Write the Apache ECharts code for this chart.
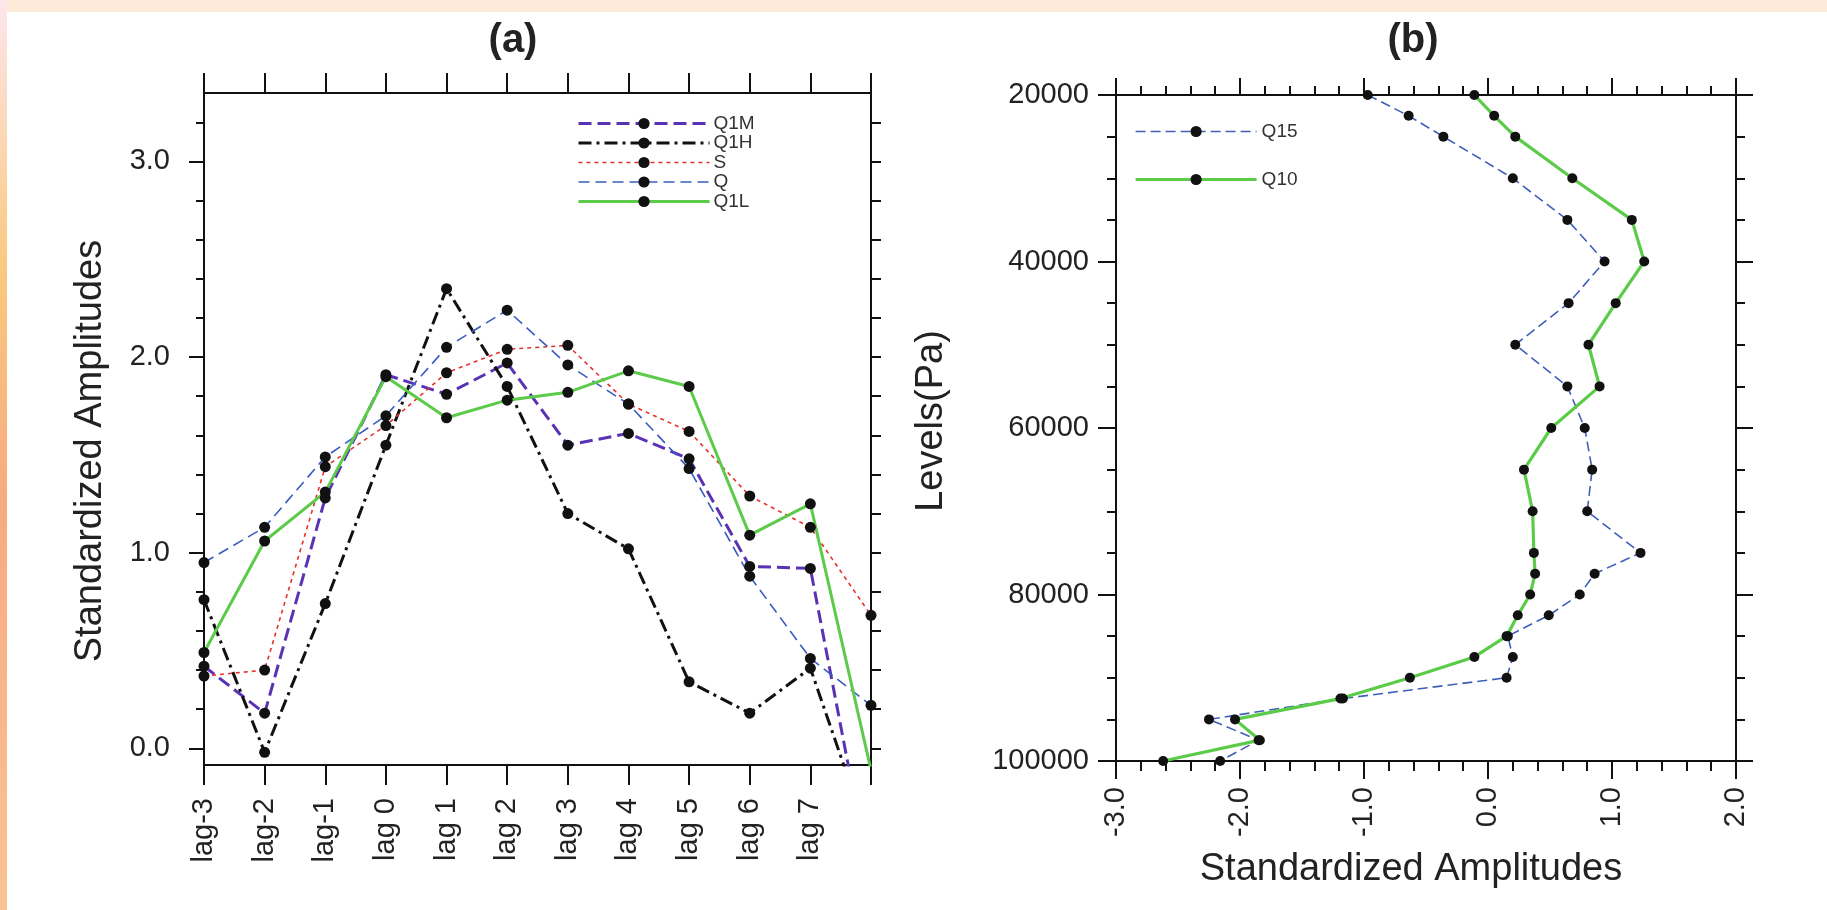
<!DOCTYPE html>
<html>
<head>
<meta charset="utf-8">
<script src="https://cdn.jsdelivr.net/npm/echarts@6/dist/echarts.min.js"></script>
<style>
  html, body { margin: 0; padding: 0; background: #ffffff; }
  #chart { width: 1827px; height: 910px; }
</style>
</head>
<body>
<div id="chart"></div>
<script>
// ---- Panel (a): amplitudes by lag ----
const lagLabels = ['lag-3', 'lag-2', 'lag-1', 'lag 0', 'lag 1', 'lag 2', 'lag 3', 'lag 4', 'lag 5', 'lag 6', 'lag 7'];
const lagPositions = [0, 1, 2, 3, 4, 5, 6, 7, 8, 9, 10, 11];
const q1m = [0.42, 0.18, 1.28, 1.91, 1.81, 1.97, 1.55, 1.61, 1.48, 0.93, 0.92, -0.69];
const q1h = [0.76, -0.02, 0.74, 1.55, 2.35, 1.85, 1.20, 1.02, 0.34, 0.18, 0.41, -0.49];
const sAmp = [0.37, 0.40, 1.44, 1.65, 1.92, 2.04, 2.06, 1.76, 1.62, 1.29, 1.13, 0.68];
const qAmp = [0.95, 1.13, 1.49, 1.70, 2.05, 2.24, 1.96, 1.76, 1.43, 0.88, 0.46, 0.22];
const q1l = [0.49, 1.06, 1.31, 1.90, 1.69, 1.78, 1.82, 1.93, 1.85, 1.09, 1.25, -0.11];
const ampMajorTicks = [0, 1, 2, 3];
const ampMinorTicks = [0.2, 0.4, 0.6, 0.8, 1.2, 1.4, 1.6, 1.8, 2.2, 2.4, 2.6, 2.8, 3.2];
const ampAllTicks = [0, 0.2, 0.4, 0.6, 0.8, 1, 1.2, 1.4, 1.6, 1.8, 2, 2.2, 2.4, 2.6, 2.8, 3, 3.2];

// ---- Panel (b): vertical profiles ----
const levels = [20000, 22500, 25000, 30000, 35000, 40000, 45000, 50000, 55000, 60000, 65000, 70000,
                75000, 77500, 80000, 82500, 85000, 87500, 90000, 92500, 95000, 97500, 100000];
const q15 = [-0.97, -0.64, -0.36, 0.20, 0.64, 0.94, 0.65, 0.22, 0.64, 0.78, 0.84, 0.80,
             1.23, 0.86, 0.74, 0.49, 0.16, 0.20, 0.15, -1.17, -2.25, -1.85, -2.16];
const q10 = [-0.11, 0.05, 0.22, 0.68, 1.16, 1.26, 1.03, 0.81, 0.90, 0.51, 0.29, 0.36,
             0.37, 0.38, 0.34, 0.24, 0.15, -0.11, -0.63, -1.19, -2.04, -1.84, -2.62];

const FONT = "'Liberation Sans', Arial, Helvetica, sans-serif";
const BLACK = '#111111';

const lagPairs = vals => lagPositions.map((p, i) => [p, vals[i]]);
const profilePairs = vals => levels.map((lv, i) => [vals[i], lv]);

function lagSeries(name, vals, color, width, dash) {
  return {
    name, type: 'line', xAxisIndex: 0, yAxisIndex: 0,
    data: lagPairs(vals),
    symbol: 'circle', symbolSize: 11,
    itemStyle: { color: BLACK },
    lineStyle: { color, width, type: dash },
    clip: true, animation: false
  };
}
function profileSeries(name, vals, color, width, dash) {
  return {
    name, type: 'line', xAxisIndex: 2, yAxisIndex: 3,
    data: profilePairs(vals),
    symbol: 'circle', symbolSize: 10,
    itemStyle: { color: BLACK },
    lineStyle: { color, width, type: dash },
    clip: true, animation: false
  };
}

const axisLine = { show: true, onZero: false, lineStyle: { color: BLACK, width: 2 } };
const tickStyle = { color: BLACK, width: 2 };
const labelStyle = { color: '#222', fontFamily: FONT, fontSize: 29 };

const option = {
  backgroundColor: '#ffffff',
  animation: false,
  grid: [
    { left: 204, top: 93, width: 667, height: 672 },
    { left: 1116, top: 95, width: 620, height: 666 }
  ],
  xAxis: [
    { // (a) bottom
      gridIndex: 0, type: 'value', position: 'bottom', min: 0, max: 11, interval: 1,
      axisLine, splitLine: { show: false },
      axisTick: { show: true, length: 20, lineStyle: tickStyle },
      axisLabel: Object.assign({ rotate: 90, margin: 33,
        formatter: v => lagLabels[Math.round(v)] || '' }, labelStyle)
    },
    { // (a) top
      gridIndex: 0, type: 'value', position: 'top', min: 0, max: 11, interval: 1,
      axisLine, splitLine: { show: false },
      axisTick: { show: true, length: 20, lineStyle: tickStyle },
      axisLabel: { show: false }
    },
    { // (b) bottom
      gridIndex: 1, type: 'value', position: 'bottom', min: -3, max: 2, interval: 1,
      axisLine, splitLine: { show: false },
      axisTick: { show: true, length: 18, lineStyle: tickStyle },
      minorTick: { show: true, splitNumber: 5, length: 10, lineStyle: tickStyle },
      axisLabel: Object.assign({ rotate: 90, margin: 26, formatter: v => v.toFixed(1) }, labelStyle)
    },
    { // (b) top
      gridIndex: 1, type: 'value', position: 'top', min: -3, max: 2, interval: 1,
      axisLine, splitLine: { show: false },
      axisTick: { show: true, length: 17, lineStyle: tickStyle },
      minorTick: { show: true, splitNumber: 5, length: 9, lineStyle: tickStyle },
      axisLabel: { show: false }
    }
  ],
  yAxis: [
    { // (a) left, labelled
      gridIndex: 0, type: 'value', position: 'left', min: -0.085, max: 3.35,
      axisLine, splitLine: { show: false },
      axisTick: { show: true, length: 15, lineStyle: tickStyle, customValues: ampMajorTicks },
      axisLabel: Object.assign({ margin: 34, customValues: ampMajorTicks,
        formatter: v => Number(v).toFixed(1) }, labelStyle)
    },
    { // (a) left, minor ticks
      gridIndex: 0, type: 'value', position: 'left', min: -0.085, max: 3.35,
      axisLine: { show: false, onZero: false }, splitLine: { show: false },
      axisTick: { show: true, length: 8, lineStyle: tickStyle, customValues: ampMinorTicks },
      axisLabel: { show: false }
    },
    { // (a) right
      gridIndex: 0, type: 'value', position: 'right', min: -0.085, max: 3.35,
      axisLine, splitLine: { show: false },
      axisTick: { show: true, length: 10, lineStyle: tickStyle, customValues: ampAllTicks },
      axisLabel: { show: false }
    },
    { // (b) left, pressure levels
      gridIndex: 1, type: 'value', position: 'left', inverse: true,
      min: 20000, max: 100000, interval: 20000,
      axisLine, splitLine: { show: false },
      axisTick: { show: true, length: 18, lineStyle: tickStyle },
      minorTick: { show: true, splitNumber: 4, length: 9, lineStyle: tickStyle },
      axisLabel: Object.assign({ margin: 27, formatter: v => String(v) }, labelStyle)
    },
    { // (b) right
      gridIndex: 1, type: 'value', position: 'right', inverse: true,
      min: 20000, max: 100000, interval: 20000,
      axisLine, splitLine: { show: false },
      axisTick: { show: true, length: 17, lineStyle: tickStyle },
      minorTick: { show: true, splitNumber: 4, length: 9, lineStyle: tickStyle },
      axisLabel: { show: false }
    }
  ],
  legend: [
    {
      data: ['Q1M', 'Q1H', 'S', 'Q', 'Q1L'],
      orient: 'vertical', left: 577, top: 114,
      itemWidth: 131, itemHeight: 14, itemGap: 0.5, padding: 0,
      selectedMode: false,
      lineStyle: { width: 'inherit' },
      textStyle: { color: '#333', fontFamily: FONT, fontSize: 19, lineHeight: 14, padding: [0, 0, 0, -1] }
    },
    {
      data: ['Q15', 'Q10'],
      orient: 'vertical', left: 1134, top: 122,
      itemWidth: 121, itemHeight: 14, itemGap: 29, padding: 0,
      selectedMode: false,
      lineStyle: { width: 'inherit' },
      textStyle: { color: '#333', fontFamily: FONT, fontSize: 19, lineHeight: 14 }
    }
  ],
  graphic: [
    // page border tint
    { type: 'rect', left: 0, top: 0, z: -10, shape: { width: 1827, height: 12 },
      style: { fill: '#fde9d7' } },
    { type: 'rect', left: 0, top: 0, z: -10, shape: { width: 7, height: 910 },
      style: { fill: { type: 'linear', x: 0, y: 0, x2: 0, y2: 1, colorStops: [
        { offset: 0, color: '#fde6ec' }, { offset: 0.3, color: '#f9c97e' },
        { offset: 0.55, color: '#f8aa7f' }, { offset: 1, color: '#f9c495' } ] } } },
    // panel titles
    { type: 'text', x: 513, y: 41, style: { text: '(a)', fill: '#222', font: "bold 40px " + FONT,
      textAlign: 'center', textVerticalAlign: 'middle' } },
    { type: 'text', x: 1413, y: 41, style: { text: '(b)', fill: '#222', font: "bold 40px " + FONT,
      textAlign: 'center', textVerticalAlign: 'middle' } },
    // axis titles
    { type: 'text', x: 91, y: 451, rotation: Math.PI / 2, style: { text: 'Standardized Amplitudes',
      fill: '#222', font: "38px " + FONT, textAlign: 'center', textVerticalAlign: 'middle' } },
    { type: 'text', x: 932, y: 421, rotation: Math.PI / 2, style: { text: 'Levels(Pa)',
      fill: '#222', font: "38px " + FONT, textAlign: 'center', textVerticalAlign: 'middle' } },
    { type: 'text', x: 1411, y: 870, style: { text: 'Standardized Amplitudes',
      fill: '#222', font: "38px " + FONT, textAlign: 'center', textVerticalAlign: 'middle' } }
  ],
  series: [
    lagSeries('Q1M', q1m, '#5a32b4', 3, [13, 6]),
    lagSeries('Q1H', q1h, BLACK, 3, [13, 5, 3, 5]),
    lagSeries('S', sAmp, '#e8302a', 1.6, [4, 4]),
    lagSeries('Q', qAmp, '#3a5cc0', 1.6, [11, 6]),
    lagSeries('Q1L', q1l, '#5ccb4a', 3, 'solid'),
    profileSeries('Q15', q15, '#3f5fb8', 1.6, [10, 5]),
    profileSeries('Q10', q10, '#5ccb4a', 3.2, 'solid')
  ]
};

const chart = echarts.init(document.getElementById('chart'), null, { renderer: 'canvas' });
chart.setOption(option);
</script>
</body>
</html>
